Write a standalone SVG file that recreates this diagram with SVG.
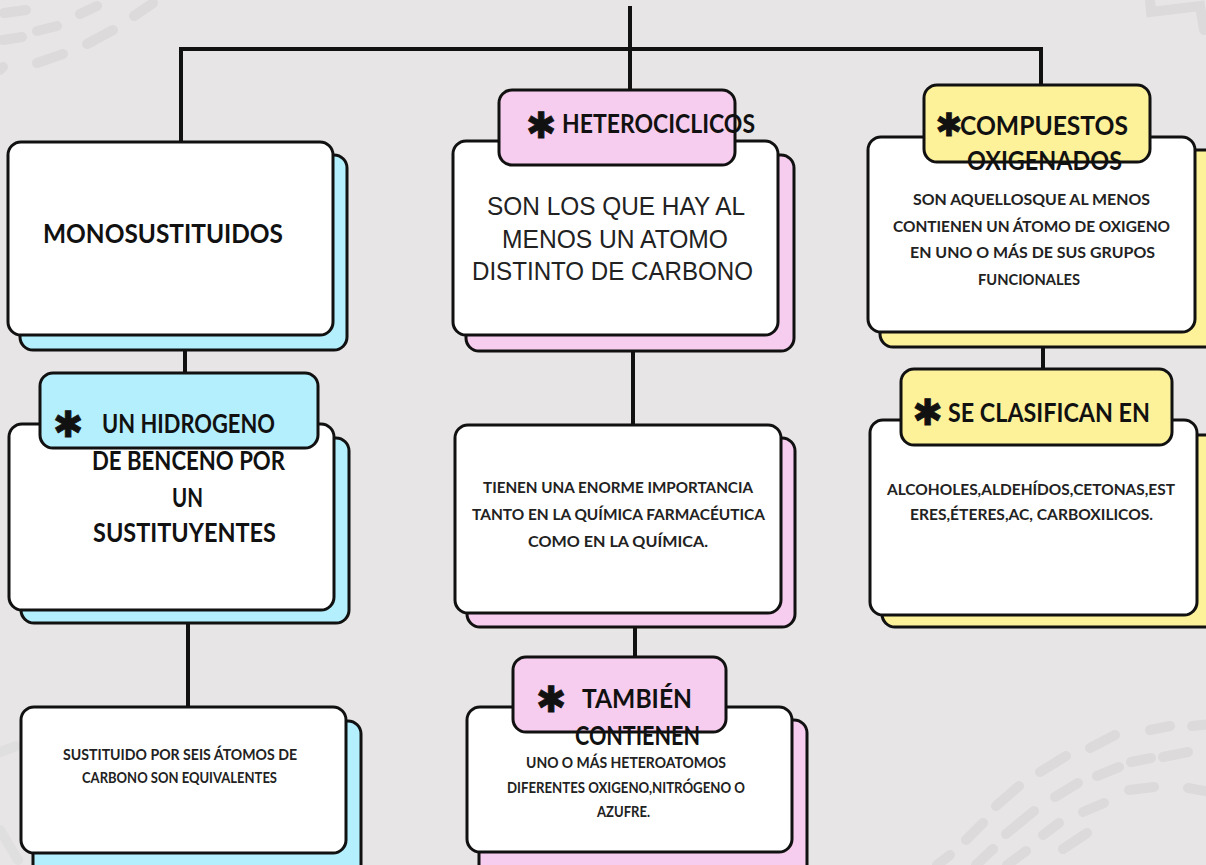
<svg xmlns="http://www.w3.org/2000/svg" width="1206" height="865" viewBox="0 0 1206 865">
<style>
.bg{fill:#e7e5e6}
.deco{stroke:#dcdadb;stroke-width:10;stroke-linecap:round;fill:none}
.conn{stroke:#111;stroke-width:4;fill:none;stroke-linecap:square}
.card{fill:#fff;stroke:#111;stroke-width:3}
.blue{fill:#b3effd;stroke:#111;stroke-width:3}
.pink{fill:#f6cdee;stroke:#111;stroke-width:3}
.yel{fill:#fdf19a;stroke:#111;stroke-width:3}
.hd{font-family:Lato,"Liberation Sans",sans-serif;font-weight:700;font-size:27px;fill:#111;text-anchor:middle}
.bd{font-family:Lato,"Liberation Sans",sans-serif;font-weight:700;font-size:16px;fill:#222;text-anchor:middle}
.ar{font-family:"Liberation Sans",Arial,sans-serif;font-size:25px;fill:#222;text-anchor:middle}
.st{font-family:"DejaVu Sans",sans-serif;font-size:36px;fill:#111;text-anchor:middle;stroke:#111;stroke-width:0.8}
</style>
<rect class="bg" x="0" y="0" width="1206" height="865"/>
<g id="decoration">
<line class="deco" x1="4" y1="13" x2="26" y2="10"/>
<line class="deco" x1="37" y1="31" x2="57" y2="26"/>
<line class="deco" x1="3" y1="40" x2="22" y2="37"/>
<line class="deco" x1="80" y1="14" x2="97" y2="6"/>
<line class="deco" x1="87" y1="44" x2="113" y2="30"/>
<line class="deco" x1="37" y1="63" x2="63" y2="54"/>
<line class="deco" x1="134" y1="16" x2="153" y2="3"/>
<line class="deco" x1="0" y1="70" x2="3" y2="67"/>
<path class="deco" d="M1150,0 L1151,12 L1200,6 L1204,30" stroke-width="7"/>
<line class="deco" x1="1090" y1="748" x2="1115" y2="735"/>
<line class="deco" x1="1150" y1="730" x2="1170" y2="726"/>
<line class="deco" x1="1192" y1="726" x2="1210" y2="724"/>
<line class="deco" x1="1040" y1="772" x2="1066" y2="756"/>
<line class="deco" x1="1097" y1="776" x2="1119" y2="767"/>
<line class="deco" x1="1131" y1="762" x2="1151" y2="758"/>
<line class="deco" x1="1163" y1="757" x2="1188" y2="752" stroke-width="13"/>
<line class="deco" x1="996" y1="806" x2="1019" y2="786" stroke-width="14"/>
<line class="deco" x1="1055" y1="797" x2="1078" y2="783"/>
<line class="deco" x1="1083" y1="812" x2="1104" y2="803" stroke-width="13"/>
<line class="deco" x1="1129" y1="790" x2="1154" y2="787" stroke-width="14"/>
<line class="deco" x1="1188" y1="788" x2="1210" y2="792" stroke-width="12"/>
<line class="deco" x1="966" y1="840" x2="983" y2="823"/>
<line class="deco" x1="1006" y1="834" x2="1034" y2="811"/>
<line class="deco" x1="1043" y1="835" x2="1059" y2="823"/>
<line class="deco" x1="1063" y1="849" x2="1087" y2="833"/>
<line class="deco" x1="937" y1="865" x2="950" y2="855"/>
<line class="deco" x1="976" y1="865" x2="993" y2="849"/>
<line class="deco" x1="1007" y1="865" x2="1026" y2="851"/>
<path class="deco" d="M0,752 L16,746 M0,830 L18,860" stroke-width="6" opacity="0.6"/>
</g>
<g id="connectors">
<line class="conn" x1="630" y1="8" x2="630" y2="92"/>
<polyline class="conn" points="181,142 181,49 1041,49 1041,86"/>
<line class="conn" x1="185" y1="335" x2="185" y2="373"/>
<line class="conn" x1="188" y1="610" x2="188" y2="707"/>
<line class="conn" x1="633" y1="335" x2="633" y2="425"/>
<line class="conn" x1="635" y1="612" x2="635" y2="657"/>
<line class="conn" x1="1043" y1="332" x2="1043" y2="369"/>
</g>
<g id="node-monosustituidos">
<rect class="blue" x="20" y="155" width="327" height="195" rx="13"/>
<rect class="card" x="8" y="142" width="325" height="193" rx="13"/>
<text class="hd" x="163" y="243" textLength="240" lengthAdjust="spacingAndGlyphs">MONOSUSTITUIDOS</text>
</g>
<g id="node-hidrogeno">
<rect class="blue" x="21" y="438" width="328" height="185" rx="13"/>
<rect class="card" x="9" y="424" width="325" height="186" rx="13"/>
<rect class="blue" x="40" y="373" width="278" height="75" rx="13"/>
<text class="st" x="68" y="437">✱</text>
<text class="hd" x="188.5" y="433" textLength="173" lengthAdjust="spacingAndGlyphs">UN HIDROGENO</text>
<text class="hd" x="188.5" y="470" textLength="193" lengthAdjust="spacingAndGlyphs">DE BENCENO POR</text>
<text class="hd" x="187.5" y="507" textLength="31" lengthAdjust="spacingAndGlyphs">UN</text>
<text class="hd" x="184.5" y="542" textLength="183" lengthAdjust="spacingAndGlyphs">SUSTITUYENTES</text>
</g>
<g id="node-sustituido">
<rect class="blue" x="33" y="721" width="328" height="160" rx="13"/>
<rect class="card" x="21" y="707" width="325" height="146" rx="13"/>
<text class="bd" x="180" y="760" textLength="234" lengthAdjust="spacingAndGlyphs">SUSTITUIDO POR SEIS ÁTOMOS DE</text>
<text class="bd" x="179.5" y="783" textLength="195" lengthAdjust="spacingAndGlyphs">CARBONO SON EQUIVALENTES</text>
</g>
<g id="node-heterociclicos">
<rect class="pink" x="466" y="155" width="328" height="196" rx="13"/>
<rect class="card" x="453" y="141" width="325" height="194" rx="13"/>
<rect class="pink" x="499" y="90" width="236" height="75" rx="13"/>
<text class="st" x="541" y="138">✱</text>
<text class="hd" x="658.5" y="133" textLength="193" lengthAdjust="spacingAndGlyphs">HETEROCICLICOS</text>
<text class="ar" x="616" y="215" textLength="258" lengthAdjust="spacingAndGlyphs">SON LOS QUE HAY AL</text>
<text class="ar" x="615" y="248" textLength="226" lengthAdjust="spacingAndGlyphs">MENOS UN ATOMO</text>
<text class="ar" x="612.5" y="280" textLength="281" lengthAdjust="spacingAndGlyphs">DISTINTO DE CARBONO</text>
</g>
<g id="node-importancia">
<rect class="pink" x="467" y="438" width="328" height="189" rx="13"/>
<rect class="card" x="455" y="425" width="326" height="188" rx="13"/>
<text class="bd" x="618" y="493" textLength="270" lengthAdjust="spacingAndGlyphs">TIENEN UNA ENORME IMPORTANCIA</text>
<text class="bd" x="618.5" y="520" textLength="293" lengthAdjust="spacingAndGlyphs">TANTO EN LA QUÍMICA FARMACÉUTICA</text>
<text class="bd" x="618" y="547" textLength="180" lengthAdjust="spacingAndGlyphs">COMO EN LA QUÍMICA.</text>
</g>
<g id="node-tambien">
<rect class="pink" x="479" y="720" width="328" height="160" rx="13"/>
<rect class="card" x="467" y="707" width="325" height="145" rx="13"/>
<rect class="pink" x="513" y="657" width="213" height="75" rx="13"/>
<text class="st" x="551" y="712">✱</text>
<text class="hd" x="637" y="708" textLength="110" lengthAdjust="spacingAndGlyphs">TAMBIÉN</text>
<text class="hd" x="637.5" y="745" textLength="125" lengthAdjust="spacingAndGlyphs">CONTIENEN</text>
<text class="bd" x="626" y="768" textLength="200" lengthAdjust="spacingAndGlyphs">UNO O MÁS HETEROATOMOS</text>
<text class="bd" x="626" y="793" textLength="238" lengthAdjust="spacingAndGlyphs">DIFERENTES OXIGENO,NITRÓGENO O</text>
<text class="bd" x="623.5" y="817" textLength="53" lengthAdjust="spacingAndGlyphs">AZUFRE.</text>
</g>
<g id="node-compuestos">
<rect class="yel" x="880" y="150" width="340" height="197" rx="13"/>
<rect class="card" x="868" y="137" width="327" height="195" rx="13"/>
<rect class="yel" x="924" y="85" width="226" height="77" rx="13"/>
<text class="st" x="949" y="136" style="font-size:32px">✱</text>
<text class="hd" x="1044" y="135" textLength="168" lengthAdjust="spacingAndGlyphs">COMPUESTOS</text>
<text class="hd" x="1044.5" y="170" textLength="155" lengthAdjust="spacingAndGlyphs">OXIGENADOS</text>
<text class="bd" x="1031.5" y="205" textLength="237" lengthAdjust="spacingAndGlyphs">SON AQUELLOSQUE AL MENOS</text>
<text class="bd" x="1031.5" y="232" textLength="277" lengthAdjust="spacingAndGlyphs">CONTIENEN UN ÁTOMO DE OXIGENO</text>
<text class="bd" x="1032.5" y="258" textLength="245" lengthAdjust="spacingAndGlyphs">EN UNO O MÁS DE SUS GRUPOS</text>
<text class="bd" x="1029" y="285" textLength="102" lengthAdjust="spacingAndGlyphs">FUNCIONALES</text>
</g>
<g id="node-clasifican">
<rect class="yel" x="882" y="435" width="340" height="192" rx="13"/>
<rect class="card" x="870" y="420" width="327" height="195" rx="13"/>
<rect class="yel" x="901" y="369" width="271" height="76" rx="13"/>
<text class="st" x="927.5" y="425">✱</text>
<text class="hd" x="1049" y="422" textLength="202" lengthAdjust="spacingAndGlyphs">SE CLASIFICAN EN</text>
<text class="bd" x="1031" y="495" textLength="288" lengthAdjust="spacingAndGlyphs">ALCOHOLES,ALDEHÍDOS,CETONAS,EST</text>
<text class="bd" x="1031.5" y="520" textLength="243" lengthAdjust="spacingAndGlyphs">ERES,ÉTERES,AC, CARBOXILICOS.</text>
</g>
</svg>
